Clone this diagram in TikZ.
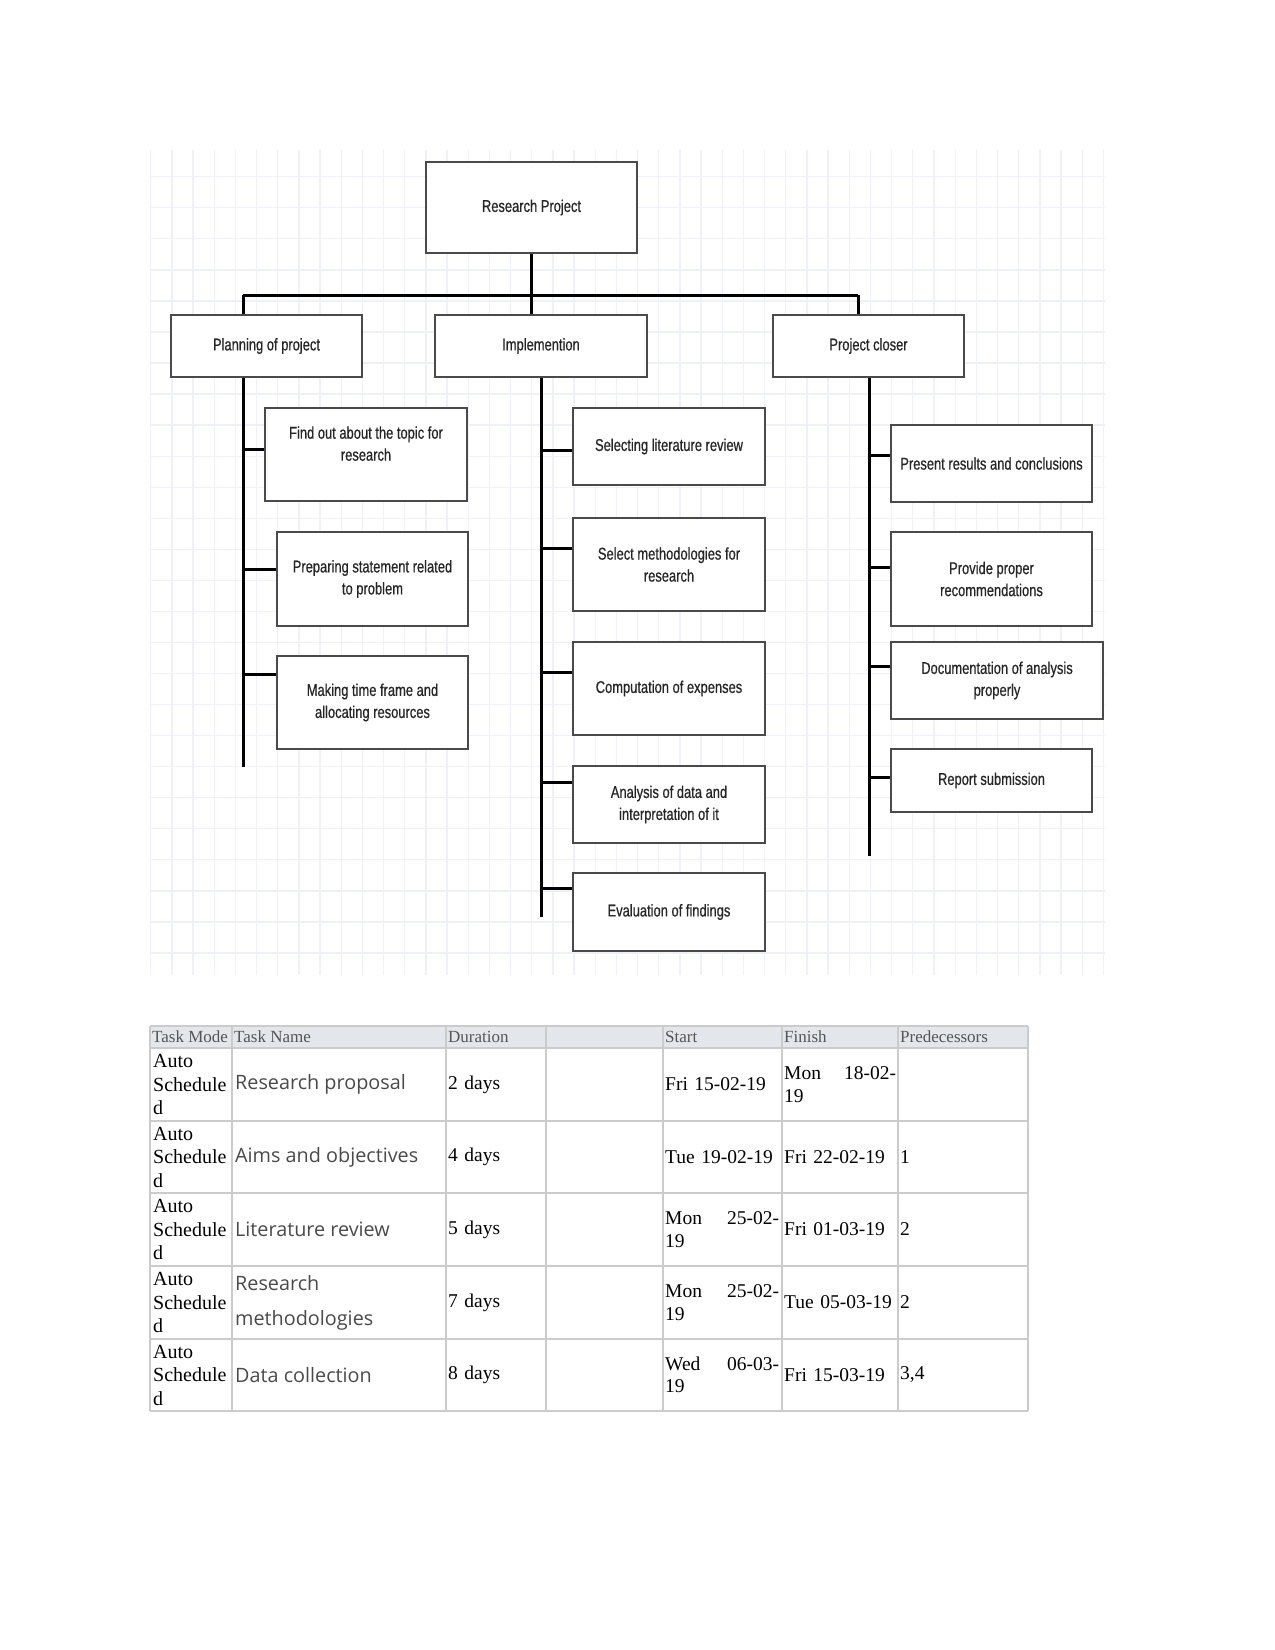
\documentclass[tikz,border=0pt]{standalone}
\usepackage{fontspec}
\setmainfont{Liberation Serif}
\newfontfamily\wbsfont[FakeStretch=0.76,FakeBold=0.6]{Liberation Sans}
\newfontfamily\namefont{Open Sans}
\usetikzlibrary{calc}
\definecolor{gridline}{HTML}{F0F0F8}
\definecolor{boxline}{HTML}{4A4A4A}
\definecolor{boxtext}{HTML}{262626}
\definecolor{cellline}{HTML}{CBCBCB}
\definecolor{headfill}{HTML}{E3E6EA}
\definecolor{headtext}{HTML}{555555}
\definecolor{nametext}{HTML}{4A4A4A}
\tikzset{
  % --- work breakdown boxes ---
  wbsbox/.style={draw=boxline, line width=2pt, fill=white, inner sep=0pt,
                 align=center, text=boxtext,
                 font=\wbsfont\fontsize{17}{22}\selectfont},
  wbsline/.style={draw=black, line width=3pt},
  % --- schedule table ---
  headcell/.style={anchor=west, inner sep=0pt, text=headtext,
                   font=\fontsize{17}{18}\selectfont},
  modecell/.style={anchor=west, inner sep=0pt, align=left,
                   font=\fontsize{20}{23.5}\selectfont},
  namecell/.style={anchor=west, inner sep=0pt, align=left, text=nametext,
                   font=\namefont\fontsize{19.8}{35}\selectfont},
  datecell/.style={anchor=west, inner sep=0pt, align=left, text width=112pt,
                   font=\fontsize{19.5}{22.5}\selectfont},
}

\begin{document}
\begin{tikzpicture}[x=1pt, y=-1pt]
  \useasboundingbox[fill=white] (0,0) rectangle (1275,1650);

  % background grid
  \foreach \k in {0,...,45}
    \draw[gridline, line width=1.3pt] (150.7+21.17*\k,150) -- (150.7+21.17*\k,975);
  \foreach \k in {0,...,25}
    \draw[gridline, line width=1.3pt] (150,176.7+31.05*\k) -- (1105,176.7+31.05*\k);

  % boxes
  \node[wbsbox, minimum width=211pt, minimum height=91pt] (root) at (531.5,207.5) {Research Project};
  \node[wbsbox, minimum width=191pt, minimum height=62pt] (plan) at (266.5,346) {Planning of project};
  \node[wbsbox, minimum width=212pt, minimum height=62pt] (impl) at (541,346) {Implemention};
  \node[wbsbox, minimum width=191pt, minimum height=62pt] (close) at (868.5,346) {Project closer};

  \node[wbsbox, minimum width=202pt, minimum height=93pt] (p1) at (366,454.5) {Find out about the topic for\\research\\\mbox{}};
  \node[wbsbox, minimum width=191pt, minimum height=94pt] (p2) at (372.5,579) {Preparing statement related\\to problem};
  \node[wbsbox, minimum width=191pt, minimum height=93pt] (p3) at (372.5,702.5) {Making time frame and\\allocating resources};

  \node[wbsbox, minimum width=192pt, minimum height=77pt] (i1) at (669,446.5) {Selecting literature review};
  \node[wbsbox, minimum width=192pt, minimum height=93pt] (i2) at (669,564.5) {Select methodologies for\\research};
  \node[wbsbox, minimum width=192pt, minimum height=93pt] (i3) at (669,688.5) {Computation of expenses};
  \node[wbsbox, minimum width=192pt, minimum height=77pt] (i4) at (669,804.5) {Analysis of data and\\interpretation of it};
  \node[wbsbox, minimum width=192pt, minimum height=78pt] (i5) at (669,912) {Evaluation of findings};

  \node[wbsbox, minimum width=201pt, minimum height=77pt] (c1) at (991.5,463.5) {Present results and conclusions};
  \node[wbsbox, minimum width=201pt, minimum height=94pt] (c2) at (991.5,579) {Provide proper\\recommendations};
  \node[wbsbox, minimum width=212pt, minimum height=77pt] (c3) at (997,680.5) {Documentation of analysis\\properly};
  \node[wbsbox, minimum width=201pt, minimum height=63pt] (c4) at (991.5,780.5) {Report submission};

  % connectors
  \coordinate (busL) at (243,295);
  \coordinate (busR) at (858,295);
  \coordinate (planend) at (243,767);
  \coordinate (implend) at (541,917);
  \coordinate (closeend) at (869,856);
  \draw[wbsline] (root.south) -- (root.south |- busL);
  \draw[wbsline] (busL) -- (busR);
  \draw[wbsline] (busL) -- (busL |- plan.north);
  \draw[wbsline] (root.south |- busL) -- (root.south |- impl.north);
  \draw[wbsline] (busR) -- (busR |- close.north);
  \draw[wbsline] (planend |- plan.south) -- (planend);
  \draw[wbsline] (implend |- impl.south) -- (implend);
  \draw[wbsline] (closeend |- close.south) -- (closeend);
  \foreach \b/\f in {p1/0.45, p2/0.40, p3/0.20} {
    \coordinate (t\b) at ($(\b.north west)!\f!(\b.south west)$);
    \draw[wbsline] (t\b -| planend) -- (t\b);
  }
  \foreach \b/\f in {i1/0.55, i2/0.33, i3/0.33, i4/0.22, i5/0.21} {
    \coordinate (t\b) at ($(\b.north west)!\f!(\b.south west)$);
    \draw[wbsline] (t\b -| implend) -- (t\b);
  }
  \foreach \b/\f in {c1/0.40, c2/0.38, c3/0.32, c4/0.46} {
    \coordinate (t\b) at ($(\b.north west)!\f!(\b.south west)$);
    \draw[wbsline] (t\b -| closeend) -- (t\b);
  }

  % schedule table
  \fill[headfill] (150,1026) rectangle (1028,1048);
  \foreach \y in {1026,1048,1121,1193,1266,1339,1411}
    \draw[cellline, line width=2pt] (150,\y) -- (1028,\y);
  \foreach \x in {150,232,446,546,663,782,898,1028}
    \draw[cellline, line width=2pt] (\x,1026) -- (\x,1411);

  \node[headcell] (hmode) at (152,1037) {Task Mode};
  \node[headcell] (hname) at (234,1037) {Task Name};
  \node[headcell] (hdur) at (448,1037) {Duration};
  \node[headcell] (hstart) at (665,1037) {Start};
  \node[headcell] (hfin) at (784,1037) {Finish};
  \node[headcell] (hpred) at (900,1037) {Predecessors};

  \foreach \r/\y/\task/\dur/\st/\fin/\pred in {
      1/1084.5/{Research proposal}/{2 days}/{Fri 15-02-19}/{Mon\hfill 18-02-\\19}/{},
      2/1157/{Aims and objectives}/{4 days}/{Tue 19-02-19}/{Fri 22-02-19}/{1},
      3/1229.5/{Literature review}/{5 days}/{Mon\hfill 25-02-\\19}/{Fri 01-03-19}/{2},
      4/1302.5/{Research\\methodologies}/{7 days}/{Mon\hfill 25-02-\\19}/{Tue 05-03-19}/{2},
      5/1375/{Data collection}/{8 days}/{Wed\hfill 06-03-\\19}/{Fri 15-03-19}/{3,4}} {
    \node[modecell] (mode\r) at (153,\y) {Auto\\Schedule\\d};
    \node[namecell] (name\r) at (235,\y) {\task};
    \node[datecell] (dur\r) at (448,\y) {\dur};
    \node[datecell, text width=114pt] (start\r) at (665,\y) {\st};
    \node[datecell] (fin\r) at (784,\y) {\fin};
    \node[datecell, text width=120pt] (pred\r) at (900,\y) {\pred};
  }
\end{tikzpicture}
\end{document}
